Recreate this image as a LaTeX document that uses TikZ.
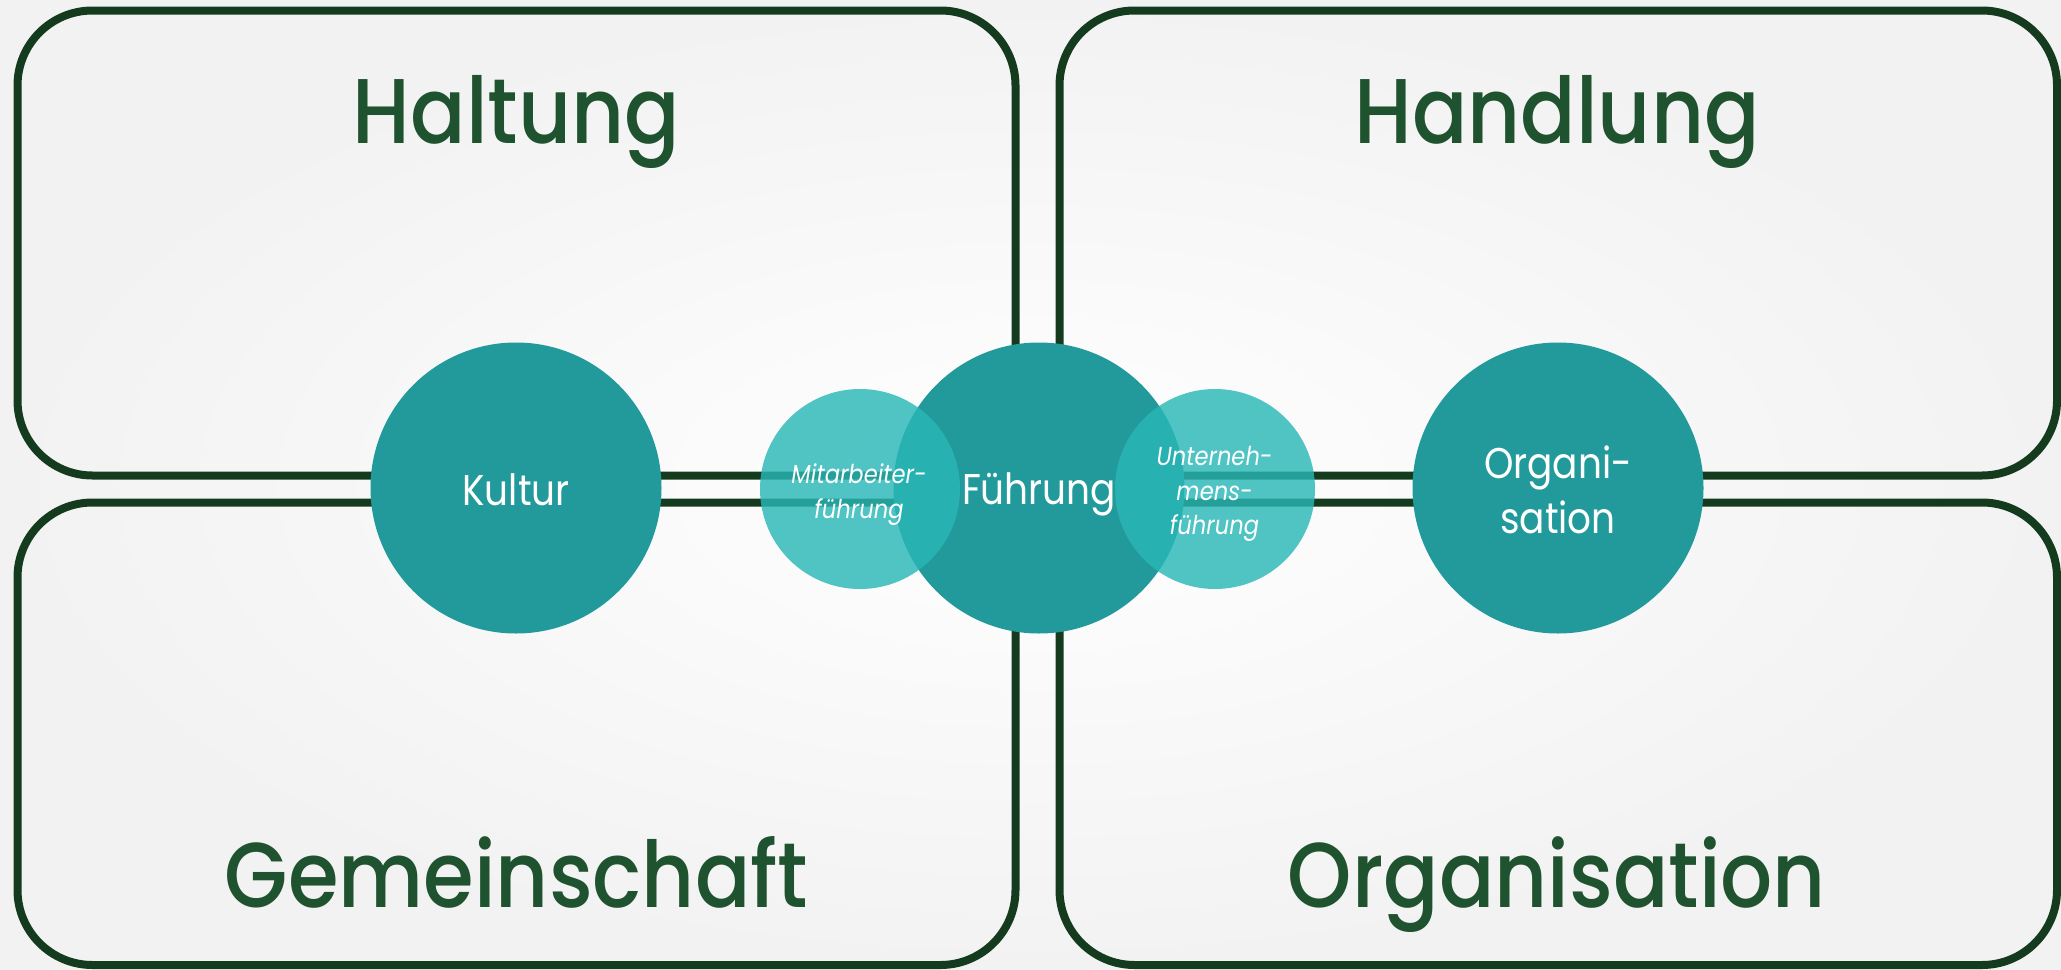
\documentclass[tikz,border=0pt]{standalone}
\usepackage{fontspec}
\setmainfont{Poppins}[FakeStretch=0.87]
\newfontfamily\titlefont{Poppins Medium}[FakeStretch=0.89]
\definecolor{border}{RGB}{21,59,31}
\definecolor{titlegreen}{RGB}{31,82,46}
\definecolor{bigteal}{RGB}{34,154,156}
\definecolor{smallteal}{RGB}{41,183,183}
\definecolor{bgedge}{RGB}{242,242,242}
\begin{document}
\begin{tikzpicture}[x=1pt,y=-1pt,
  panel/.style={draw=border, line width=8pt, rounded corners=75pt},
  bigcircle/.style={circle, fill=bigteal, minimum size=291pt, inner sep=0pt},
  smallcircle/.style={circle, fill=smallteal, fill opacity=0.81, minimum size=200pt, inner sep=0pt},
  title/.style={text=titlegreen, font=\titlefont\fontsize{92}{100}\selectfont, anchor=base, inner sep=0pt},
  circletext/.style={text=white, font=\fontsize{43}{50}\selectfont, anchor=base, inner sep=0pt},
  smalltext/.style={text=white, font=\itshape\fontsize{26}{30}\selectfont, anchor=base, inner sep=0pt}
]
\useasboundingbox (0,0) rectangle (2061,969);
\shade[inner color=white, outer color=bgedge] (0,0) rectangle (2061,969);

% panels
\draw[panel] (17.5,10.5) rectangle (1015.5,475.5);
\draw[panel] (1059.5,10.5) rectangle (2057,475.5);
\draw[panel] (17.5,502.5) rectangle (1015.5,965);
\draw[panel] (1059.5,502.5) rectangle (2057,965);

% titles
\node[title] (haltung) at (516.5,143) {Haltung};
\node[title] (handlung) at (1557,143) {Handlung};
\node[title] (gemeinschaft) at (516.5,907) {Gemeinschaft};
\node[title] (organisationT) at (1557,907) {Organisation};

% circles
\node[bigcircle] (kultur) at (516,488) {};
\node[bigcircle] (fuehrung) at (1039,488) {};
\node[bigcircle] (organisation) at (1558,488) {};
\node[smallcircle] (mitarbeiter) at (860,489) {};
\node[smallcircle] (unternehmen) at (1215,489) {};

% circle texts
\node[circletext] (kulturT) at (516,505) {Kultur};
\node[circletext] (fuehrungT) at (1039,504) {Führung};
\node[circletext] (orgT1) at (1558,478) {Organi-};
\node[circletext] (orgT2) at (1558,533) {sation};
\node[smalltext] (maT1) at (859,483) {Mitarbeiter-};
\node[smalltext] (maT2) at (859,518) {führung};
\node[smalltext] (unT1) at (1214.5,465) {Unterneh-};
\node[smalltext] (unT2) at (1214.5,500.5) {mens-};
\node[smalltext] (unT3) at (1214.5,534) {führung};
\end{tikzpicture}
\end{document}
